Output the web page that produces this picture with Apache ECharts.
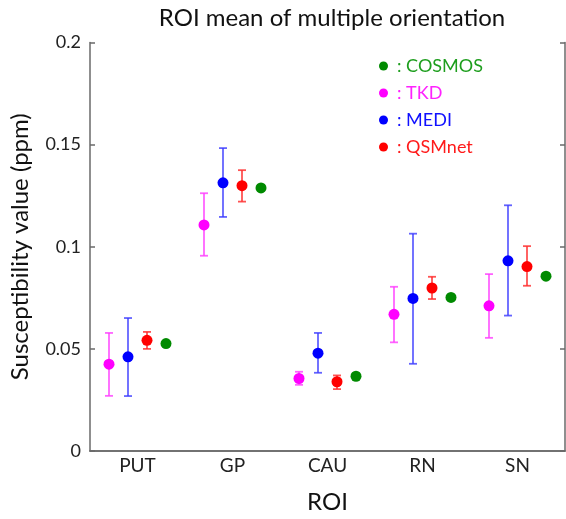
<!DOCTYPE html>
<html>
<head>
<meta charset="utf-8">
<script src="https://cdn.jsdelivr.net/npm/echarts@6/dist/echarts.min.js"></script>
<style>html,body{margin:0;padding:0;background:#fff;}#c{width:566px;height:519px;}</style>
</head>
<body>
<div id="c"></div>
<script>
const categories = ['PUT', 'GP', 'CAU', 'RN', 'SN'];
const yTicks = [0, 0.05, 0.1, 0.15, 0.2];

const tkdMean = [0.0425, 0.1107, 0.0355, 0.0669, 0.0711];
const tkdLow  = [0.0270, 0.0956, 0.0324, 0.0532, 0.0554];
const tkdHigh = [0.0578, 0.1262, 0.0388, 0.0804, 0.0866];

const mediMean = [0.0461, 0.1313, 0.0479, 0.0747, 0.0931];
const mediLow  = [0.0269, 0.1146, 0.0383, 0.0427, 0.0663];
const mediHigh = [0.0651, 0.1483, 0.0578, 0.1064, 0.1203];

const qsmMean = [0.0542, 0.1299, 0.0339, 0.0798, 0.0903];
const qsmLow  = [0.0500, 0.1221, 0.0303, 0.0744, 0.0809];
const qsmHigh = [0.0583, 0.1375, 0.0370, 0.0853, 0.1003];

const cosmosMean = [0.0526, 0.1288, 0.0366, 0.0752, 0.0856];

const FONT = 'Lato';

function makeSeries(name, color, barColor, offset, mean, low, high) {
  const data = categories.map((c, i) => [i, mean[i], low ? low[i] : null, high ? high[i] : null]);
  return {
    type: 'custom',
    name: name,
    itemStyle: { color: color },
    encode: { x: 0, y: 1 },
    data: data,
    renderItem: function (params, api) {
      const idx = api.value(0);
      const band = api.size([1, 0])[0];
      const c = api.coord([idx, api.value(1)]);
      const x = c[0] + offset * band;
      const children = [];
      if (low) {
        const yl = api.coord([idx, api.value(2)])[1];
        const yh = api.coord([idx, api.value(3)])[1];
        const st = { stroke: barColor, lineWidth: 1.8 };
        children.push({ type: 'line', shape: { x1: x, y1: yl, x2: x, y2: yh }, style: st });
        children.push({ type: 'line', shape: { x1: x - 4, y1: yl, x2: x + 4, y2: yl }, style: st });
        children.push({ type: 'line', shape: { x1: x - 4, y1: yh, x2: x + 4, y2: yh }, style: st });
      }
      children.push({ type: 'circle', shape: { cx: x, cy: c[1], r: 5.5 }, style: { fill: color } });
      return { type: 'group', children: children };
    }
  };
}

const axisLineStyle = { color: '#6a6a6a', width: 1.5 };

const chart = echarts.init(document.getElementById('c'), null, { renderer: 'canvas' });
chart.setOption({
  backgroundColor: '#ffffff',
  animation: false,
  title: {
    text: 'ROI mean of multiple orientation',
    left: 327,
    textAlign: 'center',
    top: 1,
    textStyle: { fontFamily: FONT, fontSize: 24, fontWeight: 'normal', color: '#111' }
  },
  legend: {
    orient: 'vertical',
    left: 374,
    top: 52,
    icon: 'circle',
    itemWidth: 9,
    itemHeight: 9,
    itemGap: 9,
    formatter: function (n) { return ': ' + n; },
    textStyle: { fontFamily: FONT, fontSize: 18, lineHeight: 18, padding: [0, 0, 0, 4] },
    data: [
      { name: 'COSMOS', textStyle: { color: '#1e9e1e' } },
      { name: 'TKD', textStyle: { color: '#ff22ff' } },
      { name: 'MEDI', textStyle: { color: '#1010ff' } },
      { name: 'QSMnet', textStyle: { color: '#ff1a1a' } }
    ]
  },
  grid: { left: 89, right: 1, top: 42.5, bottom: 67 },
  xAxis: [
    {
      type: 'category',
      data: categories,
      boundaryGap: true,
      name: 'ROI',
      nameLocation: 'middle',
      nameGap: 39,
      nameTextStyle: { fontFamily: FONT, fontSize: 24, color: '#111' },
      axisLine: { lineStyle: axisLineStyle },
      axisTick: { alignWithLabel: true, inside: true, length: 5, lineStyle: axisLineStyle },
      axisLabel: { fontFamily: FONT, fontSize: 19, color: '#222', margin: 5 },
      splitLine: { show: false }
    },
    {
      type: 'category',
      data: categories,
      position: 'top',
      boundaryGap: true,
      axisLine: { lineStyle: axisLineStyle },
      axisTick: { alignWithLabel: true, inside: true, length: 5, lineStyle: axisLineStyle },
      axisLabel: { show: false },
      splitLine: { show: false }
    }
  ],
  yAxis: [
    {
      type: 'value',
      min: yTicks[0],
      max: yTicks[yTicks.length - 1],
      interval: 0.05,
      name: 'Susceptibility value (ppm)',
      nameLocation: 'middle',
      nameGap: 58,
      nameTextStyle: { fontFamily: FONT, fontSize: 24, color: '#111' },
      axisLine: { show: true, lineStyle: axisLineStyle },
      axisTick: { show: true, inside: true, length: 5, lineStyle: axisLineStyle },
      axisLabel: { fontFamily: FONT, fontSize: 18, color: '#222', margin: 9 },
      splitLine: { show: false }
    },
    {
      type: 'value',
      position: 'right',
      min: yTicks[0],
      max: yTicks[yTicks.length - 1],
      interval: 0.05,
      axisLine: { show: true, lineStyle: axisLineStyle },
      axisTick: { show: true, inside: true, length: 5, lineStyle: axisLineStyle },
      axisLabel: { show: false },
      splitLine: { show: false }
    }
  ],
  series: [
    makeSeries('TKD', '#ff00ff', 'rgba(255,60,255,0.8)', -0.3, tkdMean, tkdLow, tkdHigh),
    makeSeries('MEDI', '#0000ff', 'rgba(60,60,255,0.8)', -0.1, mediMean, mediLow, mediHigh),
    makeSeries('QSMnet', '#ff0000', 'rgba(255,40,40,0.8)', 0.1, qsmMean, qsmLow, qsmHigh),
    makeSeries('COSMOS', '#008a00', null, 0.3, cosmosMean, null, null)
  ]
});
</script>
</body>
</html>
